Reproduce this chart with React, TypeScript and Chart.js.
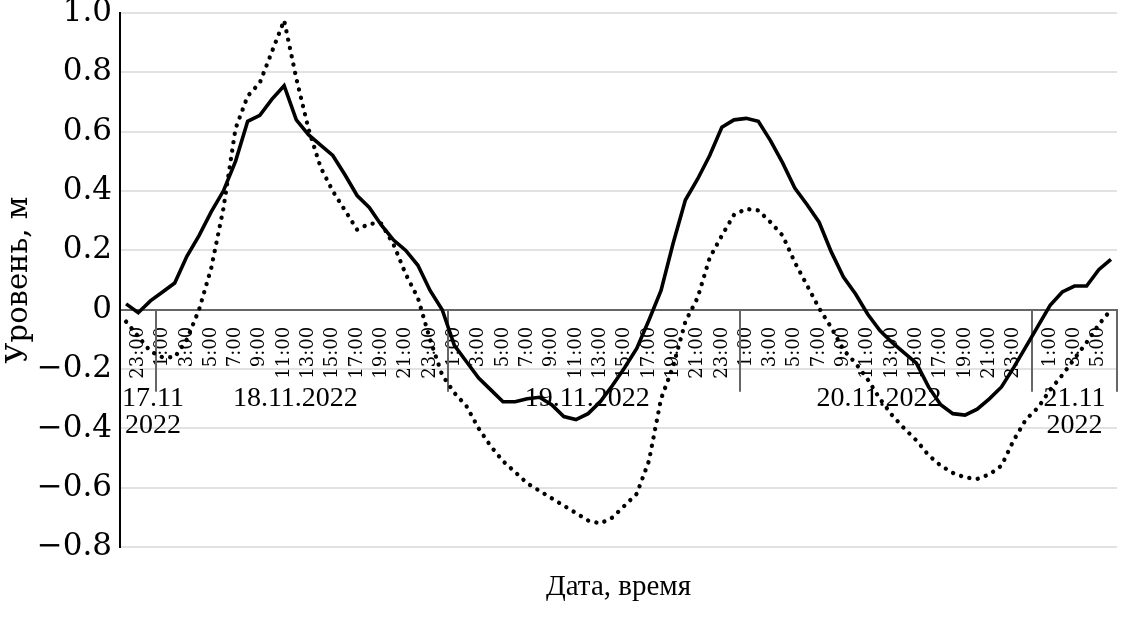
import { useEffect, useRef } from 'react';
import Chart from 'chart.js/auto';

// hour categories (one point per hour)
const HOURS_17 = ['22:00', '23:00', '24:00'];
const HOURS_DAY = [
  '1:00', '2:00', '3:00', '4:00', '5:00', '6:00', '7:00', '8:00', '9:00', '10:00', '11:00', '12:00',
  '13:00', '14:00', '15:00', '16:00', '17:00', '18:00', '19:00', '20:00', '21:00', '22:00', '23:00', '24:00',
];
const HOURS_21 = ['0:00', '1:00', '2:00', '3:00', '4:00', '5:00', '6:00'];
const hourLabels = [...HOURS_17, ...HOURS_DAY, ...HOURS_DAY, ...HOURS_DAY, ...HOURS_21];

// date groups under the hour labels
const DATE_GROUPS: string[][] = [['17.11', '2022'], ['18.11.2022'], ['19.11.2022'], ['20.11.2022'], ['21.11', '2022']];
const GROUP_SIZES = [3, 24, 24, 24, 7];

// solid line
const solidSeries = [
  0.02, -0.01, 0.03,
  0.06, 0.09, 0.18, 0.25, 0.33, 0.40, 0.50, 0.635, 0.655, 0.71, 0.755, 0.64,
  0.59, 0.555, 0.52, 0.455, 0.385, 0.345, 0.285, 0.235, 0.20, 0.15, 0.065, 0.00,
  -0.12, -0.175, -0.23, -0.27, -0.31, -0.31, -0.30, -0.295, -0.32, -0.36, -0.37, -0.35,
  -0.31, -0.255, -0.195, -0.13, -0.035, 0.065, 0.225, 0.37, 0.44, 0.52, 0.615, 0.64,
  0.645, 0.635, 0.57, 0.495, 0.41, 0.355, 0.295, 0.195, 0.11, 0.053, -0.015, -0.07,
  -0.11, -0.145, -0.18, -0.26, -0.32, -0.35, -0.355, -0.335, -0.30, -0.26, -0.195, -0.125,
  -0.055, 0.015, 0.06, 0.08, 0.08, 0.135, 0.17,
];

// dotted line
const dottedSeries = [
  -0.04, -0.09, -0.14,
  -0.16, -0.16, -0.10, 0.00, 0.14, 0.34, 0.61, 0.72, 0.765, 0.87, 0.975, 0.78,
  0.61, 0.48, 0.40, 0.335, 0.27, 0.29, 0.29, 0.22, 0.12, 0.04, -0.10, -0.22,
  -0.28, -0.325, -0.40, -0.46, -0.51, -0.547, -0.585, -0.61, -0.635, -0.66, -0.685, -0.71,
  -0.72, -0.70, -0.66, -0.62, -0.51, -0.30, -0.19, -0.04, 0.04, 0.175, 0.25, 0.32,
  0.34, 0.335, 0.295, 0.25, 0.16, 0.083, 0.005, -0.06, -0.135, -0.18, -0.235, -0.30,
  -0.355, -0.40, -0.44, -0.49, -0.525, -0.55, -0.565, -0.57, -0.555, -0.525, -0.44, -0.37,
  -0.33, -0.27, -0.22, -0.165, -0.11, -0.05, 0.00,
];

const Y_MIN = -0.8;
const Y_MAX = 1.0;
const Y_STEP = 0.2;

const AXIS_GRAY = '#666666';
const GRID_GRAY = '#e2e2e2';
const DAY_LABEL_SHIFT = -7;

const dateGroupPlugin = {
  id: 'dateGroups',
  beforeDatasetsDraw(chart: any) {
    const { ctx, chartArea } = chart;
    const xs = chart.scales.x;
    const ys = chart.scales.y;
    const y0 = ys.getPixelForValue(0);
    const half = (xs.getPixelForValue(1) - xs.getPixelForValue(0)) / 2;
    ctx.save();
    ctx.font = '28px "Liberation Serif"';
    ctx.fillStyle = '#000';
    ctx.textAlign = 'center';
    ctx.textBaseline = 'middle';
    let start = 0;
    GROUP_SIZES.forEach((n, g) => {
      const end = start + n - 1;
      const left = start === 0 ? chartArea.left : xs.getPixelForValue(start) - half;
      const right = end === hourLabels.length - 1 ? chartArea.right : xs.getPixelForValue(end) + half;
      ctx.strokeStyle = AXIS_GRAY;
      ctx.lineWidth = 2;
      ctx.beginPath();
      ctx.moveTo(Math.round(right), y0);
      ctx.lineTo(Math.round(right), y0 + 82);
      ctx.stroke();
      const lines = DATE_GROUPS[g];
      const w = Math.max(...lines.map((t) => ctx.measureText(t).width));
      let cx = (left + right) / 2 + (lines.length === 1 ? DAY_LABEL_SHIFT : 0);
      cx = Math.max(cx, chartArea.left + 2 + w / 2);
      cx = Math.min(cx, chartArea.right - w / 2);
      lines.forEach((t, k) => ctx.fillText(t, cx, y0 + 89 + k * 27));
      start += n;
    });
    ctx.restore();
  },
};

export default function App() {
  const ref = useRef<HTMLCanvasElement>(null);
  useEffect(() => {
    const chart = new Chart(ref.current as HTMLCanvasElement, {
      type: 'line',
      data: {
        labels: hourLabels,
        datasets: [
          {
            label: 'solid',
            data: solidSeries,
            borderColor: '#000',
            borderWidth: 3.6,
            pointRadius: 0,
            tension: 0,
            fill: false,
          },
          {
            label: 'dotted',
            data: dottedSeries,
            borderColor: '#000',
            borderWidth: 4.3,
            borderDash: [0.1, 8.4],
            borderCapStyle: 'round',
            pointRadius: 0,
            tension: 0,
            fill: false,
          },
        ],
      },
      options: {
        responsive: false,
        animation: false,
        devicePixelRatio: 1,
        layout: { padding: { top: 13, right: 5, bottom: 12, left: 0 } },
        plugins: {
          legend: { display: false },
          tooltip: { enabled: false },
          title: {
            display: true,
            text: 'Дата, время',
            position: 'bottom',
            fullSize: false,
            color: '#000',
            font: { family: 'Liberation Serif', size: 29, weight: 'normal', lineHeight: 1.2 },
            padding: { top: 23, bottom: 0 },
          },
        },
        scales: {
          x: {
            type: 'category',
            offset: true,
            position: { y: 0 },
            grid: { display: false },
            border: { display: true, color: AXIS_GRAY, width: 2 },
            ticks: {
              autoSkip: false,
              minRotation: 90,
              maxRotation: 90,
              padding: 9,
              color: '#000',
              font: { family: 'DejaVu Serif', size: 18 },
              callback: (_v: any, i: number) => {
                const h = parseInt(hourLabels[i], 10);
                return h % 2 === 1 ? hourLabels[i] : '';
              },
            },
            afterFit: (s: any) => {
              s.height = 0;
              s.paddingLeft = 0;
              s.paddingRight = 0;
            },
          },
          y: {
            min: Y_MIN,
            max: Y_MAX,
            ticks: {
              stepSize: Y_STEP,
              padding: 8,
              color: '#000',
              font: { family: 'DejaVu Serif', size: 31 },
              callback: (v: any) => {
                const n = Math.round(Number(v) * 10) / 10;
                if (n === 0) return '0';
                return (n < 0 ? '\u2212' : '') + Math.abs(n).toFixed(1);
              },
            },
            grid: {
              drawTicks: false,
              lineWidth: 2,
              color: (c: any) => (c.tick && Math.abs(c.tick.value) < 1e-9 ? 'rgba(0,0,0,0)' : GRID_GRAY),
            },
            border: { display: true, color: '#000', width: 2 },
            title: {
              display: true,
              text: 'Уровень, м',
              color: '#000',
              font: { family: 'DejaVu Serif', size: 29, weight: 'normal', lineHeight: 1.2 },
              padding: { top: 2, bottom: 0 },
            },
            afterFit: (s: any) => {
              s.width = 120;
              s.paddingTop = 0;
              s.paddingBottom = 0;
            },
          },
        },
      },
      plugins: [dateGroupPlugin],
    } as any);
    return () => chart.destroy();
  }, []);
  return (
    <div style={{ position: 'absolute', left: 0, top: 0, width: 1122, height: 617, background: '#fff' }}>
      <canvas ref={ref} width={1122} height={617} style={{ display: 'block', width: 1122, height: 617 }} />
    </div>
  );
}
